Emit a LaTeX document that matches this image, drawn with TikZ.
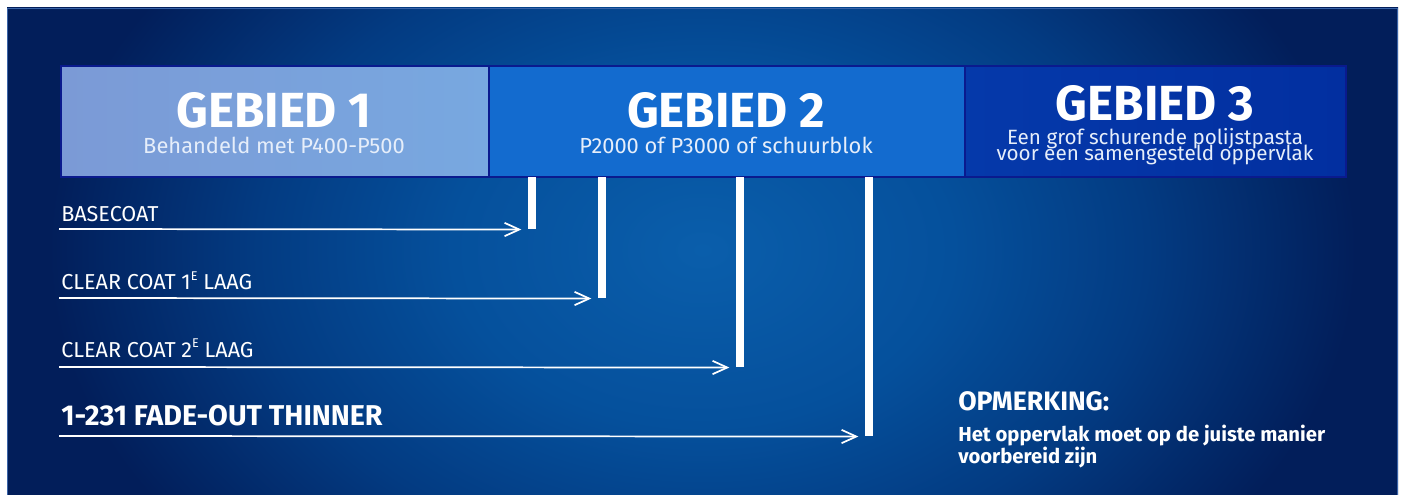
\documentclass[tikz,border=0pt]{standalone}
\usepackage{fontspec}
\setmainfont{Fira Sans}
\usetikzlibrary{arrows.meta}
\definecolor{bgin}{HTML}{0A5EAB}
\definecolor{bgmid}{HTML}{05509C}
\definecolor{bgdeep}{HTML}{033B82}
\definecolor{bgout}{HTML}{021E5A}
\definecolor{zoneline}{HTML}{0A1A8E}
\definecolor{zoneAl}{HTML}{7B9AD6}
\definecolor{zoneAr}{HTML}{78A8E0}
\definecolor{zoneB}{HTML}{136BCF}
\definecolor{zoneCl}{HTML}{0539AA}
\definecolor{zoneCr}{HTML}{022FA0}
\definecolor{subtxt}{HTML}{E6EEFA}
\definecolor{edge}{HTML}{3A64A8}
\pgfdeclareradialshading{panelshade}{\pgfpoint{0bp}{0bp}}{color(0bp)=(bgin); color(9bp)=(bgmid); color(16bp)=(bgdeep); color(23.5bp)=(bgout); color(50bp)=(bgout)}
\tikzset{
  zone/.style={draw=zoneline, line width=1.5pt, anchor=north west, inner sep=0pt, minimum height=83.25pt},
  title/.style={anchor=base, inner sep=0pt, text=white, font=\bfseries\fontsize{37}{40}\selectfont},
  subtitle/.style={anchor=base, inner sep=0pt, text=subtxt, font=\fontsize{16.4}{17}\selectfont},
  bar/.style={fill=white, anchor=north west, inner sep=0pt, minimum width=6pt},
  label/.style={anchor=base west, inner sep=0pt, text=white, font=\fontsize{16.2}{17}\selectfont},
  conn/.style={draw=white, line width=1.3pt, -{Straight Barb[length=11pt, width=10pt, line width=1.3pt]}, shorten >=5pt},
  note/.style={anchor=base west, inner sep=0pt, text=white, font=\bfseries\fontsize{15.2}{17}\selectfont}
}
\begin{document}
\begin{tikzpicture}[x=0.75pt, y=-0.75pt]
\useasboundingbox (0,0) rectangle (1402,495);
\fill[white] (0,0) rectangle (1402,495);
\begin{scope}
  \clip (7,8) rectangle (1398,495);
  \shade[shading=panelshade] (7,-240) rectangle (1398,740);
\end{scope}
\draw[color=edge, line width=0.6pt] (7.4,495) -- (7.4,8.4) -- (1397.6,8.4) -- (1397.6,495);

% zones
\node[zone, left color=zoneAl, right color=zoneAr, minimum width=321pt] (z1) at (60,65) {};
\node[zone, fill=zoneB, minimum width=357pt] (z2) at (488,65) {};
\node[zone, left color=zoneCl, right color=zoneCr, minimum width=285.75pt] (z3) at (964,65) {};

\node[title] (t1) at (274,128) {GEBIED 1};
\node[subtitle] (s1) at (274,154) {Behandeld met P400-P500};
\node[title] (t2) at (726,128) {GEBIED 2};
\node[subtitle] (s2) at (726,154) {P2000 of P3000 of schuurblok};
\node[title] (t3) at (1155,121) {GEBIED 3};
\node[subtitle, font=\fontsize{15.5}{16}\selectfont] (s3a) at (1155,145) {Een grof schurende polijstpasta};
\node[subtitle, font=\fontsize{15.5}{16}\selectfont] (s3b) at (1155,160.5) {voor een samengesteld oppervlak};

% bars
\node[bar, minimum height=39pt] (b1) at (528,177) {};
\node[bar, minimum height=90.75pt] (b2) at (598,177) {};
\node[bar, minimum height=142.5pt] (b3) at (736,177) {};
\node[bar, minimum height=194.25pt] (b4) at (865,177) {};

% labels
\node[label] (l1) at (61,222) {BASECOAT};
\node[label] (l2) at (61,290) {CLEAR COAT 1\raisebox{0.45em}{\fontsize{9.5}{9.5}\selectfont E} LAAG};
\node[label] (l3) at (61,357) {CLEAR COAT 2\raisebox{0.45em}{\fontsize{9.5}{9.5}\selectfont E} LAAG};
\node[label, font=\bfseries\fontsize{21.5}{23}\selectfont] (l4) at (61,425) {1-231 FADE-OUT THINNER};

% connectors
\coordinate (a1) at (59,229);
\coordinate (a2) at (59,298);
\coordinate (a3) at (59,367);
\coordinate (a4) at (59,436);
\draw[conn] (a1) -- (b1.south west);
\draw[conn] (a2) -- (b2.south west);
\draw[conn] (a3) -- (b3.south west);
\draw[conn] (a4) -- (b4.south west);

% note
\node[note, font=\bfseries\fontsize{20}{22}\selectfont] (n0) at (958,410) {OPMERKING:};
\node[note] (n1) at (958,441) {Het oppervlak moet op de juiste manier};
\node[note] (n2) at (958,463) {voorbereid zijn};
\end{tikzpicture}
\end{document}
